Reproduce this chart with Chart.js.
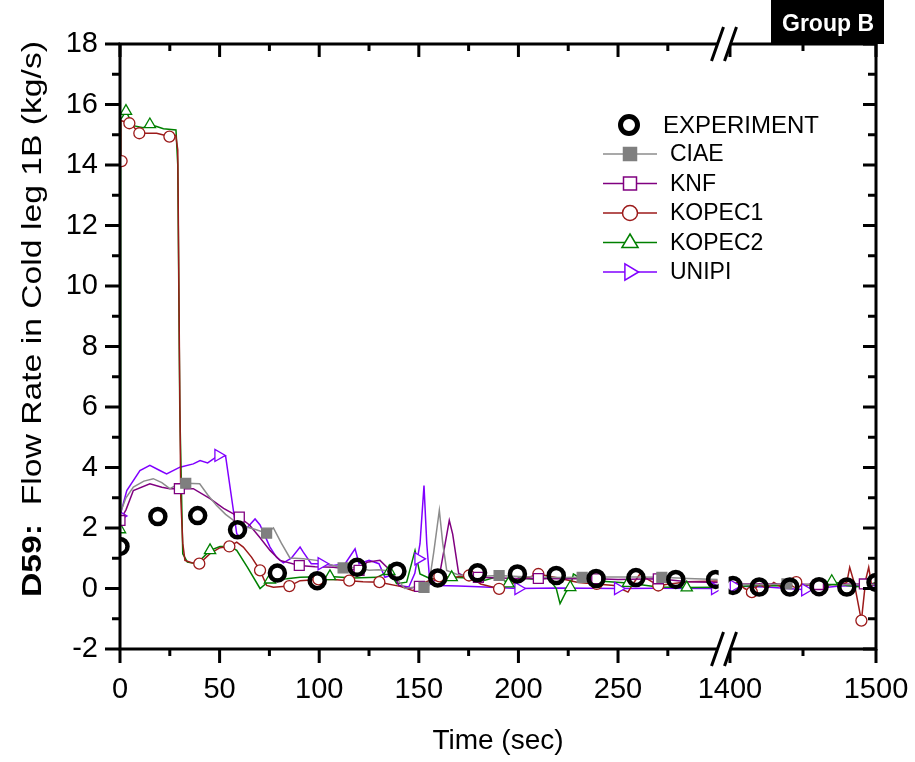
<!DOCTYPE html>
<html>
<head>
<meta charset="utf-8">
<script src="https://cdn.jsdelivr.net/npm/chart.js@4.4.1/dist/chart.umd.min.js"></script>
<style>
  html, body { margin: 0; padding: 0; background: #fff; }
  #wrap { width: 915px; height: 762px; }
</style>
</head>
<body>
<div id="wrap"><canvas id="chart" width="915" height="762"></canvas></div>
<script>
const FONT = 'Arial, "Liberation Sans", sans-serif';

// broken time axis: 0..300 s, then 1400..1500 s squeezed in
const BREAK_END = 300;
const SEG2_START = 1400;
const SEG2_OFFSET = 306.2;
const SEG2_RATIO = 0.733;
const X_MAX = 379.5;

const xTickTimes = [0, 50, 100, 150, 200, 250, 1400, 1500];
const xMinorTimes = [25, 75, 125, 175, 225, 275, 1450];
const yTicks = [-2, 0, 2, 4, 6, 8, 10, 12, 14, 16, 18];
const yMinor = [-1, 1, 3, 5, 7, 9, 11, 13, 15, 17];

// EXPERIMENT
const expTime = [0, 19, 39, 59, 79, 99, 119, 139, 159.5, 179.5, 199.5, 219, 239, 259, 279, 299, 1402, 1420, 1441, 1461, 1480, 1500];
const expFlow = [1.39, 2.38, 2.41, 1.94, 0.51, 0.26, 0.7, 0.57, 0.35, 0.52, 0.48, 0.43, 0.33, 0.36, 0.3, 0.3, 0.1, 0.05, 0.05, 0.06, 0.05, 0.2];

// CIAE
const ciaeTime = [0, 3, 6.7, 12, 16.7, 21, 25, 29.8, 33, 40, 44, 48.5, 53, 57, 63.6, 68, 73.6, 77, 81, 85.3, 92, 98.7, 107, 112, 118, 125, 130, 135, 139.7, 143, 148, 152.6, 155, 157.5, 160.3, 162, 164, 170, 180, 190, 200, 210, 220, 232, 245, 260, 272, 285, 300, 1400, 1420, 1440, 1460, 1480, 1500];
const ciaeFlow = [2.47, 3.0, 3.35, 3.55, 3.63, 3.5, 3.3, 3.46, 3.48, 3.46, 3.1, 2.74, 2.45, 2.25, 2.03, 1.95, 1.83, 2.0, 1.5, 1.01, 0.98, 0.93, 0.76, 0.68, 0.7, 0.6, 0.62, 0.58, 0.26, 0.0, 0.05, 0.04, 0.1, 1.2, 2.58, 1.5, 0.6, 0.45, 0.4, 0.43, 0.4, 0.38, 0.36, 0.37, 0.38, 0.38, 0.37, 0.33, 0.3, 0.15, 0.12, 0.15, 0.12, 0.12, 0.13];
const ciaeMarkTime = [33, 73.6, 112, 152.6, 190.3, 232, 272, 1439];
const ciaeMarkFlow = [3.48, 1.83, 0.68, 0.04, 0.43, 0.37, 0.37, 0.15];

// KNF
const knfTime = [0, 3, 6.7, 15, 21, 25, 29.8, 36.8, 45.2, 52, 59.9, 65, 70, 75.3, 80.3, 90, 98, 107, 114, 120, 124, 130.5, 134, 138, 140, 145, 150.3, 155, 160, 163, 165.3, 167, 170, 175, 179.9, 190, 200, 210, 220, 239.3, 250, 270.2, 285, 300, 1400, 1430, 1460.6, 1492, 1500];
const knfFlow = [2.25, 2.6, 3.24, 3.46, 3.35, 3.3, 3.3, 3.3, 2.97, 2.65, 2.36, 2.1, 1.7, 1.26, 0.93, 0.76, 0.72, 0.7, 0.65, 0.6, 0.87, 0.93, 0.7, 0.4, 0.1, 0.0, 0.07, 0.2, 0.3, 1.4, 2.25, 1.8, 0.5, 0.35, 0.37, 0.35, 0.33, 0.33, 0.32, 0.32, 0.3, 0.32, 0.22, 0.2, 0.15, 0.15, 0.13, 0.15, 0.15];
const knfMarkTime = [0, 29.8, 59.9, 90, 120, 150.3, 179.9, 210, 239.3, 270.2, 1460.6, 1492];
const knfMarkFlow = [2.25, 3.3, 2.36, 0.76, 0.6, 0.07, 0.37, 0.33, 0.32, 0.32, 0.13, 0.15];

// KOPEC1
const kopec1Time = [0, 0.4, 4.7, 7, 9.7, 18.4, 24.8, 28, 29, 29.8, 30.5, 31.5, 32.6, 36, 39.8, 45.2, 50.2, 54.9, 58.6, 61.9, 66.1, 70.3, 73.6, 77, 85, 90.4, 99.6, 107, 115.1, 122, 130.2, 140.6, 147.2, 153, 160.3, 168, 175.2, 181, 190.3, 200, 210, 220, 230, 239.3, 248, 255, 258, 261, 265, 270.2, 285, 300,
  1400, 1405, 1410, 1415, 1420, 1425, 1430, 1435, 1440, 1445.4, 1450, 1455, 1460, 1465, 1470, 1475, 1480, 1482, 1485, 1490, 1493, 1495, 1497, 1500];
const kopec1Flow = [14.13, 15.47, 15.38, 15.25, 15.05, 15.05, 14.94, 14.98, 14.5, 8.0, 3.0, 1.5, 0.93, 0.85, 0.82, 1.15, 1.35, 1.39, 1.53, 1.37, 1.03, 0.6, 0.1, 0.04, 0.08, 0.26, 0.3, 0.3, 0.26, 0.22, 0.21, 0.07, -0.07, 0.2, 0.4, 0.37, 0.43, 0.15, -0.01, 0.25, 0.48, 0.35, 0.2, 0.15, 0.1, -0.12, 0.2, 0.48, 0.3, 0.1, 0.22, 0.25,
  0.1, 0.2, 0.0, -0.12, 0.15, 0.0, 0.2, 0.05, 0.15, 0.21, 0.05, 0.15, 0.1, 0.05, 0.15, 0.1, 0.2, 0.7, 0.2, -1.06, 0.3, 0.7, 0.1, 0.2];
const kopec1MarkTime = [0.8, 4.7, 9.7, 24.8, 39.8, 54.9, 70.3, 85, 99.6, 115.1, 130.2, 160.3, 175.2, 190.3, 210, 239.3, 270.2, 1415, 1445.4, 1490];
const kopec1MarkFlow = [14.13, 15.38, 15.05, 14.94, 0.82, 1.39, 0.6, 0.08, 0.3, 0.26, 0.21, 0.4, 0.43, -0.01, 0.48, 0.15, 0.1, -0.12, 0.21, -1.06];

// KOPEC2
const kopec2Time = [0, 0.3, 3, 6.6, 11.7, 15, 18.4, 21.8, 28.1, 29, 30, 31.5, 33.8, 38.5, 45.2, 50.2, 55.2, 58.6, 64, 70.3, 73.6, 75.3, 83.7, 90.4, 105.4, 117, 128.9, 135.2, 138.9, 143.9, 148.1, 150.6, 155, 160, 166.5, 175, 182, 190, 195, 200, 210, 215, 219, 220.9, 224, 226, 227.6, 232, 240, 255, 270, 284.5, 300,
  1400, 1420, 1440, 1455, 1469.7, 1480, 1490, 1500];
const kopec2Flow = [2.0, 15.5, 15.78, 15.3, 15.23, 15.34, 15.27, 15.2, 15.16, 14.0, 6.0, 1.15, 0.87, 0.82, 1.26, 1.39, 1.39, 1.26, 0.7, 0.0, 0.18, 0.29, 0.32, 0.37, 0.4, 0.35, 0.37, 0.57, 0.16, 0.21, 1.26, 0.48, 0.35, 0.3, 0.37, 0.35, 0.25, 0.4, 0.16, 0.35, 0.3, 0.35, 0.0, -0.5, -0.1, 0.04, 0.48, 0.3, 0.25, 0.18, 0.05, 0.03, 0.04,
  0.05, 0.1, 0.08, 0.12, 0.24, 0.1, 0.05, 0.2];
const kopec2MarkTime = [0, 3, 15, 45.2, 75.3, 105.4, 135.2, 166.5, 195, 226, 255, 284.5, 1469.7];
const kopec2MarkFlow = [1.95, 15.78, 15.34, 1.26, 0.29, 0.4, 0.57, 0.37, 0.16, 0.04, 0.18, 0.03, 0.24];

// UNIPI
const unipiTime = [0, 3.4, 10, 15, 20, 23.4, 30.1, 36.8, 40.2, 44, 49.4, 53, 58.6, 60.2, 63, 67.8, 70.3, 75.3, 78.6, 82, 86, 90.4, 92, 96, 101.2, 107, 113, 118, 120, 125, 130, 133, 137, 140, 145, 148, 150.6, 152.6, 154, 155.6, 160, 170, 180, 200, 220, 250, 270, 298.7,
  1400, 1425, 1451.5, 1475, 1500];
const unipiFlow = [2.4, 3.24, 3.9, 4.07, 3.9, 3.79, 4.01, 4.12, 4.23, 4.15, 4.4, 4.38, 1.81, 1.7, 1.95, 2.3, 2.1, 1.37, 1.03, 0.85, 1.0, 1.37, 1.2, 0.82, 0.82, 0.76, 0.82, 1.31, 0.82, 0.93, 0.82, 0.37, 0.45, 0.1, 0.05, 0.5, 1.48, 3.4, 1.48, 0.15, 0.1, 0.08, 0.06, 0.0, 0.02, 0.0, 0.01, 0.0,
  0.08, 0.05, -0.04, 0.08, 0.1];
const unipiMarkTime = [0, 49.4, 101.2, 149.8, 200, 250, 298.7, 1402.6, 1451.5];
const unipiMarkFlow = [2.4, 4.4, 0.82, 0.98, 0.0, 0.0, 0.0, 0.08, -0.04];

function toU(t) {
  return t <= BREAK_END ? t : SEG2_OFFSET + (t - SEG2_START) * SEG2_RATIO;
}

// points for a line, with a null across the axis break so it isn't bridged
function linePoints(times, flows) {
  const pts = [];
  for (let i = 0; i < times.length; i++) {
    if (i > 0 && times[i - 1] <= BREAK_END && times[i] >= SEG2_START) {
      pts.push({ x: (BREAK_END + SEG2_OFFSET) / 2, y: null });
    }
    pts.push({ x: toU(times[i]), y: flows[i] });
  }
  return pts;
}

function markPoints(times, flows) {
  return times.map((t, i) => ({ x: toU(t), y: flows[i] }));
}

const series = [
  { label: "CIAE", color: "#7f7f7f", line: "#8c8c8c", style: "rect", fill: "#7f7f7f", r: 7, rot: 0,
    t: ciaeTime, v: ciaeFlow, mt: ciaeMarkTime, mv: ciaeMarkFlow },
  { label: "KNF", color: "#800080", line: "#800080", style: "rect", fill: "#fff", r: 7, rot: 0,
    t: knfTime, v: knfFlow, mt: knfMarkTime, mv: knfMarkFlow },
  { label: "KOPEC1", color: "#9c1a1a", line: "#9c1a1a", style: "circle", fill: "#fff", r: 5.5, rot: 0,
    t: kopec1Time, v: kopec1Flow, mt: kopec1MarkTime, mv: kopec1MarkFlow },
  { label: "KOPEC2", color: "#008000", line: "#008000", style: "triangle", fill: "#fff", r: 6.5, rot: 0,
    t: kopec2Time, v: kopec2Flow, mt: kopec2MarkTime, mv: kopec2MarkFlow },
  { label: "UNIPI", color: "#8000ff", line: "#8000ff", style: "triangle", fill: "#fff", r: 7, rot: 90,
    t: unipiTime, v: unipiFlow, mt: unipiMarkTime, mv: unipiMarkFlow },
];

const datasets = [
  {
    label: "EXPERIMENT",
    data: markPoints(expTime, expFlow),
    showLine: false,
    pointStyle: "circle",
    pointRadius: 7.5,
    pointBorderWidth: 4.5,
    pointBorderColor: "#000",
    pointBackgroundColor: "rgba(0,0,0,0)",
    order: 0,
  },
];
series.forEach((s, i) => {
  datasets.push({
    label: s.label + " markers",
    data: markPoints(s.mt, s.mv),
    showLine: false,
    pointStyle: s.style,
    pointRotation: s.rot,
    pointRadius: s.r,
    pointBorderWidth: 1.3,
    pointBorderColor: s.color,
    pointBackgroundColor: s.fill,
    order: 1 + i,
  });
  datasets.push({
    label: s.label,
    data: linePoints(s.t, s.v),
    borderColor: s.line,
    borderWidth: 1.5,
    pointRadius: 0,
    tension: 0,
    spanGaps: false,
    order: 10 + i,
  });
});

function drawMarker(ctx, style, x, y, r, rot, stroke, fill, lw) {
  ctx.save();
  ctx.translate(x, y);
  ctx.rotate(rot * Math.PI / 180);
  ctx.beginPath();
  if (style === "circle") {
    ctx.arc(0, 0, r, 0, Math.PI * 2);
  } else if (style === "rect") {
    ctx.rect(-r, -r, 2 * r, 2 * r);
  } else {
    ctx.moveTo(0, -r);
    ctx.lineTo(r * 0.95, r * 0.6);
    ctx.lineTo(-r * 0.95, r * 0.6);
    ctx.closePath();
  }
  ctx.fillStyle = fill;
  ctx.fill();
  ctx.lineWidth = lw;
  ctx.strokeStyle = stroke;
  ctx.stroke();
  ctx.restore();
}

const framePlugin = {
  id: "frame",
  afterDatasetsDraw(chart) {
    const { ctx, chartArea: a, scales: { x } } = chart;
    const g0 = x.getPixelForValue(BREAK_END + 0.5);
    const g1 = x.getPixelForValue(SEG2_OFFSET - 0.7);
    ctx.save();
    ctx.fillStyle = "#fff";
    ctx.fillRect(g0, a.top + 2, g1 - g0, a.bottom - a.top - 4);
    ctx.restore();
  },
  afterDraw(chart) {
    const { ctx, chartArea: a, scales: { x, y } } = chart;
    const L = a.left, R = a.right, T = a.top, B = a.bottom;
    const gapL = x.getPixelForValue(BREAK_END + 0.2);
    const gapR = x.getPixelForValue(SEG2_OFFSET - 0.5);
    ctx.save();
    ctx.strokeStyle = "#000";
    ctx.lineWidth = 3;
    ctx.lineCap = "butt";

    // frame
    ctx.beginPath();
    ctx.moveTo(L, T - 1.5); ctx.lineTo(L, B + 1.5);
    ctx.moveTo(R, T - 1.5); ctx.lineTo(R, B + 1.5);
    ctx.moveTo(L, B); ctx.lineTo(gapL, B);
    ctx.moveTo(gapR, B); ctx.lineTo(R, B);
    ctx.moveTo(L, T); ctx.lineTo(gapL, T);
    ctx.moveTo(gapR, T); ctx.lineTo(R, T);
    ctx.stroke();

    // ticks
    ctx.beginPath();
    xTickTimes.forEach(t => {
      const px = x.getPixelForValue(toU(t));
      ctx.moveTo(px, B); ctx.lineTo(px, B + 14);
      ctx.moveTo(px, T); ctx.lineTo(px, T + 13);
    });
    xMinorTimes.forEach(t => {
      const px = x.getPixelForValue(toU(t));
      ctx.moveTo(px, B); ctx.lineTo(px, B + 7);
      ctx.moveTo(px, T); ctx.lineTo(px, T + 7);
    });
    yTicks.forEach(v => {
      const py = y.getPixelForValue(v);
      ctx.moveTo(L - 15, py); ctx.lineTo(L, py);
      ctx.moveTo(R - 13, py); ctx.lineTo(R, py);
    });
    yMinor.forEach(v => {
      const py = y.getPixelForValue(v);
      ctx.moveTo(L - 8, py); ctx.lineTo(L, py);
      ctx.moveTo(R - 8, py); ctx.lineTo(R, py);
    });
    ctx.stroke();

    // break marks "//"
    const c1 = (gapL + gapR) / 2 - 6, c2 = (gapL + gapR) / 2 + 7;
    [T, B].forEach(yy => {
      const h = 17, d = 6;
      ctx.fillStyle = "#fff";
      ctx.beginPath();
      ctx.moveTo(c1 - d, yy + h); ctx.lineTo(c1 + d, yy - h);
      ctx.lineTo(c2 + d, yy - h); ctx.lineTo(c2 - d, yy + h);
      ctx.closePath();
      ctx.fill();
      ctx.beginPath();
      ctx.moveTo(c1 - d, yy + h); ctx.lineTo(c1 + d, yy - h);
      ctx.moveTo(c2 - d, yy + h); ctx.lineTo(c2 + d, yy - h);
      ctx.lineWidth = 3;
      ctx.stroke();
    });

    // legend
    ctx.textBaseline = "middle";
    ctx.textAlign = "left";
    drawMarker(ctx, "circle", 629, 125, 8.5, 0, "#000", "#fff", 5);
    ctx.fillStyle = "#000";
    ctx.font = "24px " + FONT;
    ctx.fillText("EXPERIMENT", 663, 126);
    ctx.font = "23px " + FONT;
    series.forEach((s, i) => {
      const ly = 154 + i * 29.5;
      ctx.beginPath();
      ctx.moveTo(603, ly); ctx.lineTo(657, ly);
      ctx.strokeStyle = s.line;
      ctx.lineWidth = 1.5;
      ctx.stroke();
      const lr = s.style === "circle" ? 7.5 : s.style === "rect" ? 6.5 : 8.5;
      drawMarker(ctx, s.style, 630, ly, lr, s.rot, s.color, s.fill, 1.5);
      ctx.fillStyle = "#000";
      ctx.fillText(s.label, 670, ly + 1);
    });

    // Group B tag
    ctx.fillStyle = "#000";
    ctx.fillRect(771, 0, 113, 44);
    ctx.fillStyle = "#fff";
    ctx.font = "bold 23px " + FONT;
    ctx.textAlign = "center";
    ctx.fillText("Group B", 828, 25);

    // x title
    ctx.fillStyle = "#000";
    ctx.font = "28px " + FONT;
    ctx.textAlign = "center";
    ctx.fillText("Time (sec)", (L + R) / 2, 741);

    // y title (bold tag + plain text)
    const boldPart = "D59:";
    const plainPart = "  Flow Rate in Cold leg 1B (kg/s)";
    ctx.font = "bold 28px " + FONT;
    const w1 = ctx.measureText(boldPart).width;
    ctx.font = "28px " + FONT;
    const w2 = ctx.measureText(plainPart).width;
    const stretch = 556 / (w1 + w2);
    ctx.translate(33, 319);
    ctx.rotate(-Math.PI / 2);
    ctx.scale(stretch, 1);
    ctx.textAlign = "left";
    ctx.font = "bold 28px " + FONT;
    ctx.fillText(boldPart, -(w1 + w2) / 2, 0);
    ctx.font = "28px " + FONT;
    ctx.fillText(plainPart, -(w1 + w2) / 2 + w1, 0);
    ctx.restore();
  },
};

new Chart(document.getElementById("chart"), {
  type: "line",
  data: { datasets },
  options: {
    responsive: false,
    animation: false,
    devicePixelRatio: 1,
    layout: { padding: { top: 44, right: 39, left: 0, bottom: 0 } },
    plugins: { legend: { display: false }, tooltip: { enabled: false } },
    scales: {
      x: {
        type: "linear",
        min: 0,
        max: X_MAX,
        grid: { display: false, drawTicks: false },
        border: { display: false },
        afterBuildTicks: (s) => { s.ticks = xTickTimes.map(t => ({ value: toU(t) })); },
        afterFit: (s) => { s.height = 762 - 649; s.paddingLeft = 0; s.paddingRight = 0; },
        ticks: {
          autoSkip: false,
          maxRotation: 0,
          padding: 24,
          color: "#000",
          font: { family: FONT, size: 29 },
          callback: (v, i) => String(xTickTimes[i]),
        },
      },
      y: {
        min: -2,
        max: 18,
        grid: { display: false, drawTicks: false },
        border: { display: false },
        afterBuildTicks: (s) => { s.ticks = yTicks.map(v => ({ value: v })); },
        afterFit: (s) => { s.width = 120; s.paddingTop = 0; s.paddingBottom = 0; },
        ticks: {
          padding: 22,
          color: "#000",
          font: { family: FONT, size: 29 },
        },
      },
    },
  },
  plugins: [framePlugin],
});
</script>
</body>
</html>
